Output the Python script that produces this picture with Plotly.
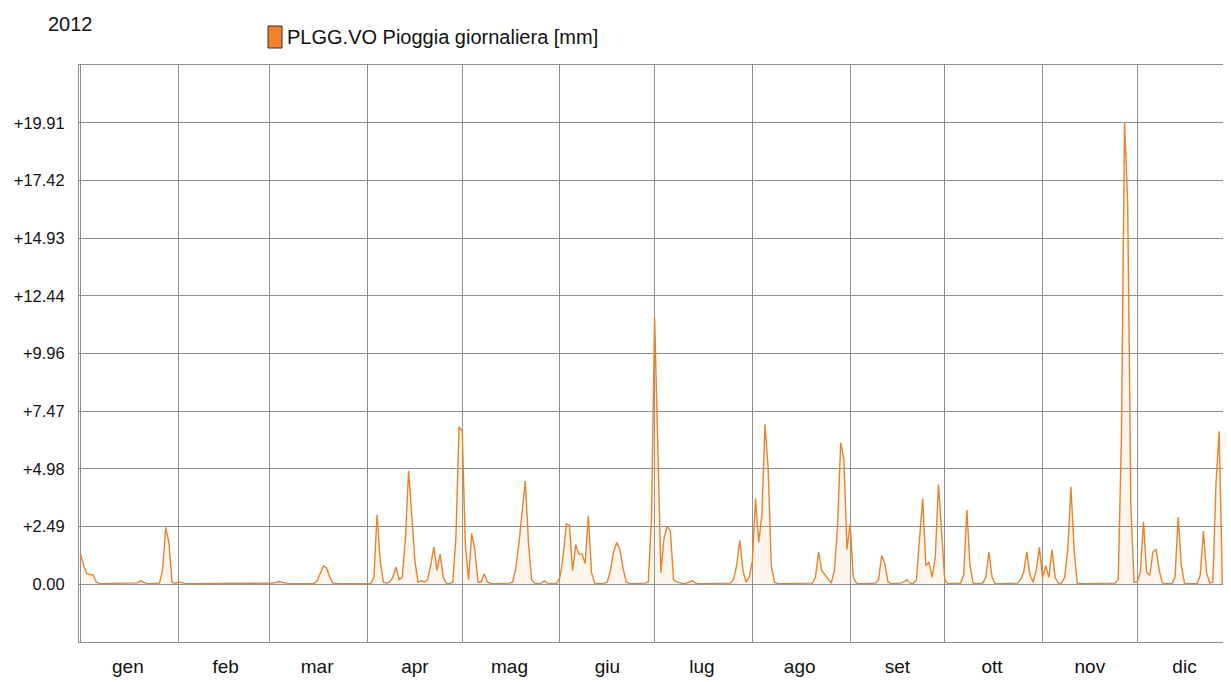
import pandas as pd
import plotly.graph_objects as go

# ---------------- data (daily rainfall, mm) ----------------
year_label = "2012"
series_name = "PLGG.VO Pioggia giornaliera [mm]"

jan = [1.3, 0.8, 0.45, 0.43, 0.4, 0.1, 0.03, 0.03, 0.03, 0.03, 0.03, 0.03, 0.03, 0.03, 0.03, 0.03,
       0.03, 0.03, 0.06, 0.15, 0.08, 0.03, 0.03, 0.03, 0.03, 0.05, 0.6, 2.45, 1.8, 0.1, 0.03]
feb = [0.1, 0.08, 0.03, 0.03, 0.03, 0.03, 0.03, 0.03, 0.03, 0.03, 0.03, 0.03, 0.03, 0.03, 0.03,
       0.03, 0.03, 0.03, 0.03, 0.03, 0.03, 0.03, 0.03, 0.03, 0.03, 0.03, 0.03, 0.03, 0.03]
mar = [0.03, 0.05, 0.08, 0.12, 0.08, 0.04, 0.03, 0.03, 0.03, 0.03, 0.03, 0.03, 0.03, 0.03, 0.03,
       0.15, 0.5, 0.8, 0.7, 0.3, 0.05, 0.03, 0.03, 0.03, 0.03, 0.03, 0.03, 0.03, 0.03, 0.03, 0.03]
apr = [0.03, 0.03, 0.3, 3.0, 1.0, 0.1, 0.05, 0.1, 0.3, 0.75, 0.2, 0.3, 2.0, 4.9, 3.0,
       1.0, 0.1, 0.15, 0.1, 0.2, 0.8, 1.6, 0.6, 1.3, 0.3, 0.03, 0.03, 0.1, 2.0, 6.8]
may = [6.6, 1.7, 0.2, 2.2, 1.5, 0.1, 0.1, 0.45, 0.1, 0.03, 0.03, 0.03, 0.03, 0.03, 0.03, 0.05,
       0.1, 0.7, 1.8, 3.3, 4.45, 1.8, 0.2, 0.05, 0.03, 0.05, 0.15, 0.05, 0.03, 0.03, 0.05]
jun = [0.3, 1.2, 2.6, 2.55, 0.6, 1.7, 1.3, 1.3, 0.9, 2.95, 0.5, 0.05, 0.03, 0.03, 0.05,
       0.1, 0.6, 1.4, 1.8, 1.5, 0.7, 0.1, 0.03, 0.03, 0.03, 0.03, 0.03, 0.05, 0.1, 2.8]
jul = [11.5, 5.4, 0.5, 2.0, 2.5, 2.3, 0.2, 0.1, 0.05, 0.03, 0.05, 0.1, 0.15, 0.05, 0.03, 0.03,
       0.03, 0.03, 0.03, 0.03, 0.05, 0.03, 0.03, 0.03, 0.05, 0.2, 0.8, 1.9, 0.6, 0.1, 0.3]
aug = [1.0, 3.7, 1.8, 3.0, 6.9, 5.0, 0.8, 0.1, 0.03, 0.03, 0.03, 0.03, 0.03, 0.03, 0.03, 0.05,
       0.03, 0.03, 0.03, 0.05, 0.3, 1.4, 0.6, 0.4, 0.2, 0.05, 0.6, 2.5, 6.1, 5.4, 1.5]
sep = [2.6, 0.3, 0.05, 0.03, 0.03, 0.03, 0.03, 0.03, 0.05, 0.2, 1.25, 0.9, 0.1, 0.03, 0.03,
       0.03, 0.05, 0.1, 0.2, 0.05, 0.03, 0.2, 1.8, 3.7, 0.8, 0.95, 0.3, 1.2, 4.3, 2.2]
oct_ = [0.2, 0.03, 0.03, 0.03, 0.03, 0.05, 0.4, 3.2, 0.8, 0.05, 0.03, 0.03, 0.05, 0.3, 1.4, 0.3,
        0.03, 0.03, 0.03, 0.03, 0.03, 0.03, 0.03, 0.05, 0.2, 0.5, 1.4, 0.4, 0.1, 0.6, 1.6]
nov = [0.3, 0.8, 0.3, 1.5, 0.3, 0.05, 0.05, 0.3, 1.5, 4.2, 1.5, 0.05, 0.03, 0.03, 0.03,
       0.03, 0.03, 0.03, 0.03, 0.03, 0.03, 0.03, 0.03, 0.05, 0.2, 6.3, 19.91, 16.4, 3.4, 0.1]
dec = [0.1, 0.5, 2.7, 0.5, 0.4, 1.4, 1.5, 0.6, 0.05, 0.03, 0.03, 0.03, 0.3, 2.9, 0.8, 0.05,
       0.03, 0.03, 0.03, 0.03, 0.4, 2.3, 0.5, 0.05, 0.1, 4.4, 6.6, 0.05, 0.03, 0.03, 0.03]

month_labels = ["gen", "feb", "mar", "apr", "mag", "giu", "lug", "ago", "set", "ott", "nov", "dic"]
y_tick_values = [0.0, 2.49, 4.98, 7.47, 9.96, 12.44, 14.93, 17.42, 19.91]
y_tick_labels = ["0.00", "+2.49", "+4.98", "+7.47", "+9.96", "+12.44", "+14.93", "+17.42", "+19.91"]

# ---------------- build ----------------
values = jan + feb + mar + apr + may + jun + jul + aug + sep + oct_ + nov + dec
dates = pd.date_range("2012-01-01", periods=len(values), freq="D")
label_dates = [f"2012-{m:02d}-16" for m in range(1, 13)]

LINE = "#E8822C"
GRID = "#8E8E8E"
FONT = "Liberation Sans, Arial, sans-serif"

# page body has an 8px default margin: the figure is sized/offset to compensate
OFF = 8
W, H = 1231 - OFF, 682 - OFF
PL, PT, PB = 79, 65, 642          # plot area in window pixels
PW, PH = 1231 - PL, PB - PT


def px(xw):
    return (xw - PL) / PW


def py(yw):
    return (PB - yw) / PH


fig = go.Figure()
fig.add_trace(go.Scatter(
    x=dates, y=values, mode="lines",
    line=dict(color=LINE, width=1.4),
    fill="tozeroy", fillcolor="rgba(245,175,115,0.13)",
    name=series_name, showlegend=False, hoverinfo="x+y",
))

fig.update_layout(
    width=W, height=H,
    margin=dict(l=PL - OFF, r=0, t=PT - OFF, b=682 - PB, autoexpand=False),
    paper_bgcolor="white", plot_bgcolor="white",
    font=dict(family=FONT, color="#111111", size=16),
    showlegend=False,
    xaxis=dict(
        type="date",
        range=["2011-12-31 12:00", "2012-12-30 18:00"],
        tickmode="array", tickvals=label_dates, ticktext=month_labels,
        showgrid=False, ticks="", ticklabelstandoff=7,
        tickfont=dict(size=19, family=FONT, color="#111111"),
        minor=dict(dtick="M1", tick0="2012-01-01", showgrid=True,
                   gridcolor=GRID, gridwidth=1, ticks=""),
        showline=True, linecolor=GRID, linewidth=1, mirror=True,
        zeroline=False, automargin=False,
    ),
    yaxis=dict(
        range=[-2.49, 22.40],
        tickmode="array", tickvals=y_tick_values, ticktext=y_tick_labels,
        showgrid=True, gridcolor=GRID, gridwidth=1,
        ticks="", ticklabelstandoff=10,
        tickfont=dict(size=16.5, family=FONT, color="#111111"),
        showline=True, linecolor=GRID, linewidth=1, mirror=False,
        zeroline=False, automargin=False,
    ),
    annotations=[
        dict(text=year_label, xref="paper", yref="paper",
             x=px(46), y=py(24), xanchor="left", yanchor="middle",
             showarrow=False, font=dict(size=20, family=FONT, color="#111111")),
        dict(text=series_name, xref="paper", yref="paper",
             x=px(285), y=py(37), xanchor="left", yanchor="middle",
             showarrow=False, font=dict(size=20, family=FONT, color="#111111")),
    ],
    shapes=[
        dict(type="rect", xref="paper", yref="paper",
             x0=px(268), x1=px(282), y0=py(48), y1=py(26),
             fillcolor="#F2822E", line=dict(color="#4a2a10", width=1)),
    ],
)

fig.write_html("out.html")
